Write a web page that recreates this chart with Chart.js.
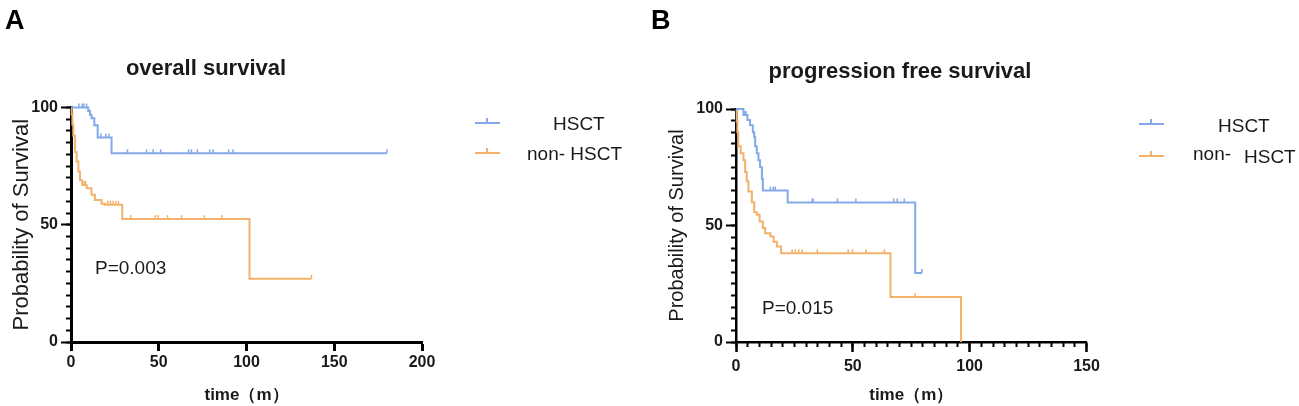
<!DOCTYPE html>
<html>
<head>
<meta charset="utf-8">
<script src="https://cdn.jsdelivr.net/npm/chart.js@4.4.1/dist/chart.umd.min.js"></script>
<style>
    body { margin: 0; background: #fff; font-family: "Liberation Sans", Arial, sans-serif; color: #1a1a1a; }
    #wrap { position: relative; width: 1299px; height: 406px; overflow: hidden; }
    canvas { position: absolute; top: 0; }
    .txt { position: absolute; white-space: nowrap; line-height: 1; }
    .letter { font-size: 27px; font-weight: bold; color: #000; }
    .title { font-size: 22px; font-weight: bold; transform: translateX(-50%); }
    .pval { font-size: 19px; }
    .leg { font-size: 19px; }
    .legline { position: absolute; height: 2px; }
    .legline i { position: absolute; left: 11px; top: -4px; width: 1.5px; height: 5px; }
</style>
</head>
<body>
<div id="wrap">
    <canvas id="osChart" width="650" height="406" style="left:0"></canvas>
    <canvas id="pfsChart" width="649" height="406" style="left:650px"></canvas>

    <div class="txt letter" style="left:5px;top:7px">A</div>
    <div class="txt letter" style="left:651px;top:7px">B</div>

    <div class="txt title" style="left:206px;top:57px">overall survival</div>
    <div class="txt title" style="left:900px;top:60px">progression free survival</div>

    <div class="txt pval" style="left:95px;top:258px">P=0.003</div>
    <div class="txt pval" style="left:762px;top:298px">P=0.015</div>

    <div class="legline" style="left:475px;top:122px;width:25px;background:#84a9e8"><i style="background:#84a9e8"></i></div>
    <div class="legline" style="left:475px;top:152px;width:25px;background:#f3b26b"><i style="background:#f3b26b"></i></div>
    <div class="txt leg" style="left:553px;top:114px">HSCT</div>
    <div class="txt leg" style="left:527px;top:144px">non- HSCT</div>

    <div class="legline" style="left:1139px;top:123px;width:25px;background:#84a9e8"><i style="background:#84a9e8"></i></div>
    <div class="legline" style="left:1139px;top:155px;width:25px;background:#f3b26b"><i style="background:#f3b26b"></i></div>
    <div class="txt leg" style="left:1218px;top:116px">HSCT</div>
    <div class="txt leg" style="left:1193px;top:144px">non-</div>
    <div class="txt leg" style="left:1244px;top:147px">HSCT</div>
</div>

<script>
// --------------------------------------------------------------------------
// DATA (months, % surviving)
// --------------------------------------------------------------------------
const OS_HSCT_TIME = [0, 9.8, 10.8, 11.7, 13.3, 15.2, 23.1, 180];
const OS_HSCT_SURV = [100, 98.5, 96.9, 95.4, 92.4, 87.2, 80.5, 80.5];
const OS_HSCT_CENSOR = [4.5, 6.4, 7.4, 8.9, 17, 19.8, 21.6, 32.2, 43, 46.8, 51.1, 67, 68.6, 72, 79, 80.9, 89.8, 92.3, 180];

const OS_NON_TIME = [0, 0.4, 0.8, 1.3, 2.3, 3.2, 4.2, 5.1, 6.4, 8.9, 11.7, 13.6, 17.4, 19.3, 29.2, 101.7, 137];
const OS_NON_SURV = [100, 97, 92.6, 88, 81, 77, 72.7, 69, 67, 65.6, 62.8, 60.6, 59, 58.5, 52.4, 27, 27];
const OS_NON_CENSOR = [7.5, 8.3, 21, 22.5, 24, 25.5, 27, 34, 48, 49.6, 55, 63, 76, 86, 137];

const PFS_HSCT_TIME = [0, 3.2, 4.9, 6, 7.2, 7.8, 8.2, 8.9, 9.6, 10.3, 11.1, 11.5, 22.1, 76.7, 79.6];
const PFS_HSCT_SURV = [100, 97.4, 95.3, 93, 90, 88, 84, 81, 78, 75, 70, 65, 59.9, 29.6, 29.6];
const PFS_HSCT_CENSOR = [3.8, 4.3, 14.7, 16, 16.8, 32.6, 33, 43.4, 51.3, 67.5, 69, 72, 79.6];

const PFS_NON_TIME = [0, 0.3, 0.6, 1, 2, 3.2, 3.9, 4.6, 5.3, 6.8, 7.8, 8.9, 10.1, 11.5, 12.5, 14.7, 16.1, 17.5, 19.3, 66.1, 96.3];
const PFS_NON_SURV = [100, 94.6, 90, 84, 81, 78, 73, 69, 64.6, 60, 55.7, 54.6, 51.7, 48.9, 46.7, 45.3, 43, 41, 38.1, 19.3, 0];
const PFS_NON_CENSOR = [24, 25.4, 26.9, 28.3, 34.8, 48, 49.9, 55.6, 63.5, 76.7];

const Y_TICK_STEP = 50;
const BLUE = '#84a9e8';
const ORANGE = '#f3b26b';

// --------------------------------------------------------------------------
// HELPERS
// --------------------------------------------------------------------------
function survAt(times, surv, t) {
    let s = surv[0];
    for (let i = 0; i < times.length; i++) if (times[i] <= t) s = surv[i];
    return s;
}

function curvePoints(times, surv) {
    return times.map((t, i) => ({ x: t, y: surv[i] }));
}

function censorPoints(cens, times, surv) {
    return cens.map(t => ({ x: t, y: survAt(times, surv, t) }));
}

function lineSet(data, color) {
    return { data, borderColor: color, borderWidth: 2, stepped: true, pointRadius: 0, fill: false, clip: false };
}

function markSet(data, color) {
    return {
        data, showLine: false, pointStyle: 'dash', pointRotation: -90, pointRadius: 4,
        pointBorderColor: color, pointBorderWidth: 1.5, clip: false
    };
}

function buildKmChart(canvasId, cfg) {
    const black = '#000';
    const scales = {
        x: {
            type: 'linear', position: 'bottom', min: 0, max: cfg.xMax, weight: 1,
            border: { color: black, width: cfg.axisWidth },
            grid: { drawOnChartArea: false, tickLength: cfg.xTickLength, tickWidth: cfg.axisWidth, tickColor: black },
            ticks: { stepSize: 50, padding: cfg.xLabelPad, color: '#1a1a1a', font: { size: 16, weight: 'bold' }, maxRotation: 0 },
            title: { display: true, text: 'time（m）', color: '#1a1a1a', font: { size: 17, weight: 'bold' }, padding: 0 },
            afterFit: s => { s.height = cfg.xAxisHeight; }
        },
        y: {
            type: 'linear', position: 'left', min: 0, max: 100, weight: 1,
            border: { color: black, width: cfg.axisWidth },
            grid: { drawOnChartArea: false, tickLength: 10, tickWidth: 2, tickColor: black },
            ticks: { stepSize: Y_TICK_STEP, padding: 3, color: '#1a1a1a', font: { size: 16, weight: 'bold' } },
            title: { display: true, text: 'Probability of Survival', color: '#1a1a1a', font: { size: cfg.yTitleSize }, padding: { top: cfg.yTitlePad } },
            afterFit: s => { s.width = cfg.yAxisWidth; }
        },
        yMinor: {
            type: 'linear', position: 'left', min: 0, max: 100, weight: 0,
            border: { display: false },
            grid: { drawOnChartArea: false, tickLength: 5, tickWidth: 2, tickColor: black },
            ticks: { stepSize: 5, autoSkip: false, callback: () => '' },
            afterFit: s => { s.width = 0; }
        }
    };
    if (cfg.xMinor) {
        scales.xMinor = {
            type: 'linear', position: 'bottom', min: 0, max: cfg.xMax, weight: 0,
            border: { display: false },
            grid: { drawOnChartArea: false, tickLength: 5, tickWidth: 2, tickColor: black },
            ticks: { stepSize: 5, autoSkip: false, callback: () => '' },
            afterFit: s => { s.height = 0; }
        };
    }
    return new Chart(document.getElementById(canvasId), {
        type: 'line',
        data: { datasets: cfg.datasets },
        options: {
            responsive: false,
            animation: false,
            layout: { padding: cfg.padding },
            plugins: { legend: { display: false }, tooltip: { enabled: false } },
            scales
        }
    });
}

// --------------------------------------------------------------------------
// CHARTS
// --------------------------------------------------------------------------
buildKmChart('osChart', {
    xMax: 200, xMinor: false, axisWidth: 3, xTickLength: 9, xLabelPad: 2,
    yAxisWidth: 71, xAxisHeight: 64, yTitleSize: 22, yTitlePad: 9,
    padding: { top: 107.5, right: 228, bottom: 0, left: 0 },
    datasets: [
        lineSet(curvePoints(OS_HSCT_TIME, OS_HSCT_SURV), BLUE),
        lineSet(curvePoints(OS_NON_TIME, OS_NON_SURV), ORANGE),
        markSet(censorPoints(OS_HSCT_CENSOR, OS_HSCT_TIME, OS_HSCT_SURV), BLUE),
        markSet(censorPoints(OS_NON_CENSOR, OS_NON_TIME, OS_NON_SURV), ORANGE)
    ]
});

buildKmChart('pfsChart', {
    xMax: 150, xMinor: true, axisWidth: 2.5, xTickLength: 10, xLabelPad: 5,
    yAxisWidth: 86, xAxisHeight: 64, yTitleSize: 20, yTitlePad: 15,
    padding: { top: 109, right: 212.5, bottom: 0, left: 0 },
    datasets: [
        lineSet(curvePoints(PFS_HSCT_TIME, PFS_HSCT_SURV), BLUE),
        lineSet(curvePoints(PFS_NON_TIME, PFS_NON_SURV), ORANGE),
        markSet(censorPoints(PFS_HSCT_CENSOR, PFS_HSCT_TIME, PFS_HSCT_SURV), BLUE),
        markSet(censorPoints(PFS_NON_CENSOR, PFS_NON_TIME, PFS_NON_SURV), ORANGE)
    ]
});
</script>
</body>
</html>
